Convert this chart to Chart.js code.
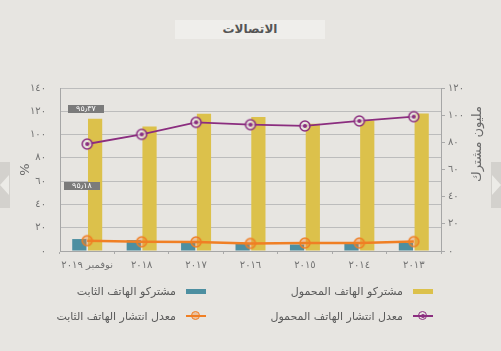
<!DOCTYPE html>
<html lang="ar">
<head>
<meta charset="utf-8">
<script src="https://cdn.jsdelivr.net/npm/chart.js@4"></script>
<style>
  html, body { margin: 0; padding: 0; }
  body { width: 501px; height: 351px; background: #e7e5e1; position: relative; overflow: hidden;
         font-family: "DejaVu Sans", sans-serif; }
  #chart { position: absolute; left: 0; top: 0; }
  .title { position: absolute; left: 175px; top: 20px; width: 150px; height: 19px; background: #efeeeb;
           text-align: center; font-size: 12px; font-weight: bold; color: #555; line-height: 19px; }
  .tag { position: absolute; width: 36px; height: 8px; background: #7b7b7b; color: #fff;
         font-size: 8px; line-height: 8px; text-align: center; }
  .arrow { position: absolute; top: 162px; width: 10px; height: 46px; background: #d3d1cd; }
  .arrow i { position: absolute; top: 13px; width: 0; height: 0; border-top: 10px solid transparent;
             border-bottom: 10px solid transparent; }
  #legend { position: absolute; right: 68px; top: 283px; width: 454px; display: grid;
            grid-template-columns: 227px 227px; row-gap: 9px; direction: rtl; }
  .item { display: flex; align-items: center; font-size: 11px; color: #5a5a5a; height: 16px; }
  .sw { width: 20px; height: 5px; margin-left: 10px; }
  .mk { position: relative; width: 20px; height: 12px; margin-left: 10px; }
  .mk b { position: absolute; left: 0; right: 0; top: 5px; height: 2px; }
  .mk s { position: absolute; left: 5px; top: 1px; width: 7px; height: 7px; border-radius: 50%; border: 1.5px solid; }
  .mk u { position: absolute; left: 8px; top: 4px; width: 4px; height: 4px; border-radius: 50%; }
</style>
</head>
<body>
<canvas id="chart" width="501" height="351"></canvas>
<div class="title">الاتصالات</div>
<div class="arrow" style="left:0"><i style="left:0;border-right:9px solid #ecebe7"></i></div>
<div class="arrow" style="left:491px"><i style="left:1px;border-left:9px solid #ecebe7"></i></div>
<div class="tag" style="left:68px;top:105px" id="tag0"></div>
<div class="tag" style="left:64px;top:182px" id="tag1"></div>
<div id="legend"></div>
<script>
let years = ['٢٠١٣', '٢٠١٤', '٢٠١٥', '٢٠١٦', '٢٠١٧', '٢٠١٨', 'نوفمبر ٢٠١٩'];

// million subscribers (right axis)
let mobileSubs = [101.2, 96.1, 93.7, 98.6, 101.0, 91.7, 97.4];
let fixedSubs = [5.9, 5.4, 4.8, 5.6, 6.1, 8.0, 8.8];

// penetration % (left axis)
let mobileRate = [115.4, 111.7, 107.4, 108.5, 110.5, 100.2, 91.9];
let fixedRate = [8.1, 6.8, 6.8, 6.5, 7.8, 7.9, 8.9];

let leftTicks = ['٠', '٢٠', '٤٠', '٦٠', '٨٠', '١٠٠', '١٢٠', '١٤٠'];
let rightTicks = ['٠', '٢٠', '٤٠', '٦٠', '٨٠', '١٠٠', '١٢٠'];

let tags = ['٩٥٫٣٧', '٩٥٫١٨'];

let names = [
    'مشتركو الهاتف المحمول',
    'مشتركو الهاتف الثابت',
    'معدل انتشار الهاتف المحمول',
    'معدل انتشار الهاتف الثابت'
];

let rightTitle = 'مليون مشترك';

let colors = {
    mobile: '#dcc14b',
    fixed: '#4d8fa1',
    mobileRate: '#8b2d7f',
    fixedRate: '#f07f24'
};

function ringPoint(color, fill, dot) {
    const c = document.createElement('canvas');
    c.width = 14; c.height = 14;
    const ctx = c.getContext('2d');
    ctx.beginPath();
    ctx.arc(7, 7, 5, 0, Math.PI * 2);
    ctx.fillStyle = fill;
    ctx.fill();
    ctx.lineWidth = 1.5;
    ctx.strokeStyle = color;
    ctx.stroke();
    if (dot) {
        ctx.beginPath();
        ctx.arc(7, 7, 2, 0, Math.PI * 2);
        ctx.fillStyle = color;
        ctx.fill();
    }
    return c;
}

// right axis title, turned the same way as the left one
const rightTitlePlugin = {
    id: 'rightTitle',
    afterDraw(chart) {
        const s = chart.scales.y1;
        const ctx = chart.ctx;
        ctx.save();
        ctx.translate(s.right - 13, chart.chartArea.top + 56);
        ctx.rotate(-Math.PI / 2);
        ctx.font = '13px "DejaVu Sans", sans-serif';
        ctx.fillStyle = '#6a6a6a';
        ctx.textAlign = 'center';
        ctx.textBaseline = 'middle';
        ctx.fillText(rightTitle, 0, 0);
        ctx.restore();
    }
};

Chart.defaults.font.family = '"DejaVu Sans", sans-serif';
Chart.defaults.color = '#747474';

const data = {
    labels: years,
    datasets: [{
        type: 'line',
        label: names[2],
        data: mobileRate,
        yAxisID: 'y',
        borderColor: colors.mobileRate,
        borderWidth: 1.8,
        pointStyle: ringPoint(colors.mobileRate, 'rgba(231,229,225,0.7)', true)
    }, {
        type: 'line',
        label: names[3],
        data: fixedRate,
        yAxisID: 'y',
        borderColor: colors.fixedRate,
        borderWidth: 2.5,
        pointStyle: ringPoint(colors.fixedRate, 'rgba(240,127,36,0.35)', false)
    }, {
        type: 'bar',
        label: names[1],
        data: fixedSubs,
        yAxisID: 'y1',
        backgroundColor: colors.fixed,
        categoryPercentage: 0.58,
        barPercentage: 0.9
    }, {
        type: 'bar',
        label: names[0],
        data: mobileSubs,
        yAxisID: 'y1',
        backgroundColor: colors.mobile,
        categoryPercentage: 0.58,
        barPercentage: 0.9
    }]
};

const config = {
    data: data,
    plugins: [rightTitlePlugin],
    options: {
        responsive: false,
        animation: false,
        devicePixelRatio: 1,
        layout: { padding: { left: 10, right: 10, top: 88, bottom: 75 } },
        plugins: { legend: { display: false }, tooltip: { enabled: false } },
        scales: {
            x: {
                reverse: true,
                offset: true,
                grid: { offset: true, drawOnChartArea: false, tickLength: 3, color: '#aaa' },
                border: { color: '#a6a6a6' },
                ticks: { font: { size: 10 }, padding: 5, maxRotation: 0, autoSkip: false },
                afterFit: s => { s.height = 25; }
            },
            y: {
                position: 'left',
                min: 0,
                max: 140,
                grid: { color: '#bcbcbc', drawTicks: false },
                border: { color: '#a6a6a6' },
                ticks: { stepSize: 20, padding: 14, font: { size: 10 },
                         callback: (v, i) => leftTicks[i] },
                title: { display: true, text: '%', font: { size: 13 }, color: '#6a6a6a', padding: { top: 8, bottom: 0 } },
                afterFit: s => { s.width = 50; }
            },
            y1: {
                position: 'right',
                min: 0,
                max: 120,
                grid: { drawOnChartArea: false, tickLength: 4, color: '#aaa' },
                border: { color: '#a6a6a6' },
                ticks: { stepSize: 10, padding: 3, font: { size: 10 },
                         callback: v => v % 20 === 0 ? rightTicks[v / 20] : '' },
                afterFit: s => { s.width = 50; }
            }
        }
    }
};

const chart = new Chart(document.getElementById('chart'), config);

document.getElementById('tag0').textContent = tags[0];
document.getElementById('tag1').textContent = tags[1];

// html legend, two columns right to left
const legend = document.getElementById('legend');
const order = [3, 2, 0, 1];
order.forEach(i => {
    const ds = chart.data.datasets[i];
    const item = document.createElement('div');
    item.className = 'item';
    if (ds.type === 'bar') {
        item.innerHTML = '<span class="sw" style="background:' + ds.backgroundColor + '"></span>';
    } else {
        const c = ds.borderColor;
        const inner = i === 0 ? '<u style="background:' + c + '"></u>' : '';
        const fill = i === 0 ? 'transparent' : 'rgba(240,127,36,0.35)';
        item.innerHTML = '<span class="mk"><b style="background:' + c + '"></b><s style="border-color:' + c +
            ';background:' + fill + '"></s>' + inner + '</span>';
    }
    const t = document.createElement('span');
    t.textContent = ds.label;
    item.appendChild(t);
    legend.appendChild(item);
});
</script>
</body>
</html>
